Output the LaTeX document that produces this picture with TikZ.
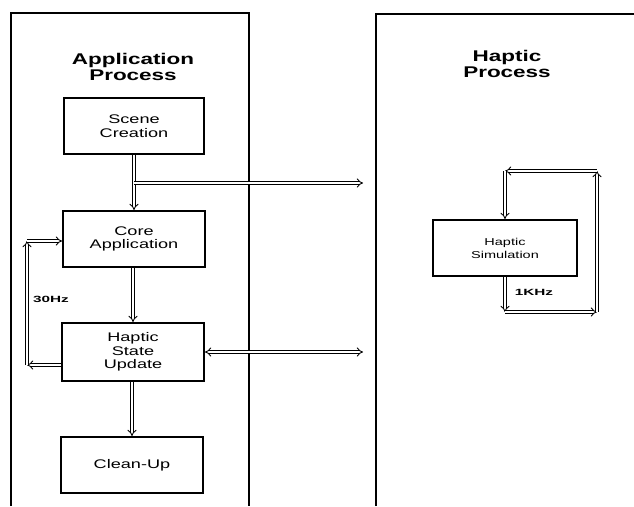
\documentclass[tikz,border=0pt]{standalone}
\usepackage{fontspec}
\usetikzlibrary{arrows.meta}
\newfontfamily\widesans[FakeStretch=1.45]{Liberation Sans}
\newfontfamily\widersans[FakeStretch=1.7]{Liberation Sans}
\begin{document}
\begin{tikzpicture}[x=1pt,y=-1pt,
  frame/.style={line width=2pt},
  stepbox/.style={draw,line width=2pt,minimum width=142pt,minimum height=56pt,
    inner sep=0pt,align=center,font=\widesans\fontsize{12.5}{13.5}\selectfont},
  title/.style={align=center,font=\widesans\bfseries\fontsize{15.5}{16}\selectfont},
  rate/.style={font=\widersans\bfseries\fontsize{9}{10}\selectfont},
  dbl/.style={double,double distance=2.2pt,line width=0.9pt,-{Implies}},
  dblboth/.style={double,double distance=2.2pt,line width=0.9pt,{Implies}-{Implies}}]
\useasboundingbox (0,0) rectangle (634,506);

% process frames (open at the bottom / right)
\draw[frame] (11,506) -- (11,13) -- (249,13) -- (249,506);
\draw[frame] (376,506) -- (376,14) -- (634,14);

\node[title] (apptitle) at (133,67) {Application\\Process};
\node[title] (haptitle) at (507,64) {Haptic\\Process};

% application process steps
\node[stepbox,minimum width=140pt] (scene) at (134,126) {Scene\\Creation};
\node[stepbox] (core)  at (134,239) {Core\\Application};
\node[stepbox,minimum height=58pt] (hsu) at (133,352) {Haptic\\State\\Update};
\node[stepbox] (clean) at (132,465) {Clean-Up};

% haptic process step
\node[stepbox,minimum width=144pt,
  font=\widesans\fontsize{10}{13}\selectfont] (hsim) at (505,248) {Haptic\\Simulation};

% main flow
\draw[dbl] (scene.south) -- (core.north);
\draw[dbl] ([xshift=-1pt]core.south) -- (hsu.north);
\draw[dbl] ([xshift=-1pt]hsu.south) -- (clean.north);

% links towards the haptic process
\coordinate (tap) at (134,183);
\coordinate (toHaptic) at (363,183);
\draw[dbl] (tap) -- (toHaptic);
\coordinate (stateLink) at (363,352);
\draw[dblboth] (hsu.east) -- (stateLink);

% 30Hz update loop
\coordinate (lb) at (27,365);
\coordinate (lt) at (27,241);
\draw[dbl] ([yshift=-13pt]hsu.west) -- (lb);
\draw[dbl] (lb) -- (lt);
\draw[dbl] (lt) -- ([yshift=-2pt]core.west);
\node[rate] (hz30) at (51,299) {30Hz};

% 1KHz simulation loop
\coordinate (sbl) at (505,312);
\coordinate (sbr) at (597,312);
\coordinate (str) at (597,171);
\coordinate (stl) at (505,171);
\draw[dbl] (hsim.south) -- (sbl);
\draw[dbl] (sbl) -- (sbr);
\draw[dbl] (sbr) -- (str);
\draw[dbl] (str) -- (stl);
\draw[dbl] (stl) -- (hsim.north);
\node[rate] (khz) at (534,292) {1KHz};
\end{tikzpicture}
\end{document}
